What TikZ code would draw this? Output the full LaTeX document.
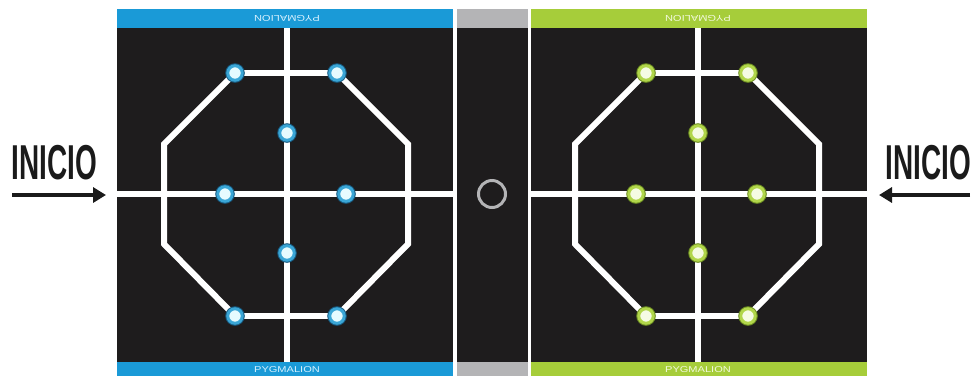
\documentclass[tikz,border=0pt]{standalone}
\usepackage{fontspec}
\setmainfont{Liberation Sans}
\usepackage{graphicx}
\usetikzlibrary{arrows.meta}
\definecolor{boardbk}{HTML}{1E1C1D}
\definecolor{barblue}{HTML}{1A9AD7}
\definecolor{bargreen}{HTML}{A6CD3A}
\definecolor{bargray}{HTML}{B4B4B6}
\definecolor{ringB}{HTML}{3AA6D6}
\definecolor{edgeB}{HTML}{17587E}
\definecolor{coreB}{HTML}{E6FBFF}
\definecolor{ringG}{HTML}{B1D64A}
\definecolor{edgeG}{HTML}{6C8C22}
\definecolor{coreG}{HTML}{F5FBE3}
\definecolor{txtB}{HTML}{D6F1FF}
\definecolor{txtG}{HTML}{F2F9DC}
\definecolor{inkblk}{HTML}{1A1A1A}
\pgfdeclarelayer{boardlayer}
\pgfdeclarelayer{linelayer}
\pgfsetlayers{boardlayer,linelayer,main}
\tikzset{
  dotB/.style={circle, inner sep=0pt, minimum size=14.5pt, fill=coreB, draw=ringB, line width=3pt,
    preaction={draw=edgeB, line width=5pt}},
  dotG/.style={circle, inner sep=0pt, minimum size=14.5pt, fill=coreG, draw=ringG, line width=3pt,
    preaction={draw=edgeG, line width=5pt}},
  track/.style={draw=white, line width=6pt, line join=miter},
  inicio/.style={inner sep=0pt, text=inkblk, font=\bfseries\fontsize{49}{49}\selectfont},
  startarrow/.style={draw=inkblk, line width=4pt, -{Triangle[length=13pt,width=15pt]}},
  barlabel/.style={inner sep=0pt, font=\fontsize{8.5}{8.5}\selectfont},
  centring/.style={circle, draw=bargray, line width=3pt, minimum size=27pt, inner sep=0pt}
}
% #1 prefix, #2 centre x, #3 left edge (rel), #4 right edge (rel), #5 dot style
\newcommand\drawboard[5]{%
\begin{scope}[shift={(#2,0)}]
  \coordinate (#1T) at (1,28);
  \coordinate (#1B) at (1,362);
  \coordinate (#1L) at (#3,194);
  \coordinate (#1R) at (#4,194);
  \coordinate (#1ul) at (-122,144);
  \coordinate (#1ll) at (-122,244);
  \coordinate (#1ur) at (122,144);
  \coordinate (#1lr) at (122,244);
  \node[#5] (#1tl) at (-51,73) {};
  \node[#5] (#1tr) at (51,73) {};
  \node[#5] (#1ct) at (1,133) {};
  \node[#5] (#1ml) at (-61,194) {};
  \node[#5] (#1mr) at (60,194) {};
  \node[#5] (#1cb) at (1,253) {};
  \node[#5] (#1bl) at (-51,316) {};
  \node[#5] (#1br) at (51,316) {};
  \begin{pgfonlayer}{linelayer}
    \draw[track] (#1T) -- (#1ct) -- (#1cb) -- (#1B);
    \draw[track] (#1L) -- (#1ml) -- (#1mr) -- (#1R);
    \draw[track] (#1tl) -- (#1tr);
    \draw[track] (#1tr) -- (#1ur) -- (#1lr) -- (#1br);
    \draw[track] (#1br) -- (#1bl);
    \draw[track] (#1bl) -- (#1ll) -- (#1ul) -- (#1tl);
  \end{pgfonlayer}
\end{scope}}
\begin{document}
\begin{tikzpicture}[x=1pt,y=-1pt]
\useasboundingbox (0,0) rectangle (972,376);
\begin{pgfonlayer}{boardlayer}
  % left board
  \fill[barblue] (117,9) rectangle (453,28);
  \fill[boardbk] (117,28) rectangle (453,362);
  \fill[barblue] (117,362) rectangle (453,376);
  % middle
  \fill[bargray] (457,9) rectangle (528,28);
  \fill[boardbk] (457,28) rectangle (528,362);
  \fill[bargray] (457,362) rectangle (528,376);
  % right board
  \fill[bargreen] (531,9) rectangle (867,28);
  \fill[boardbk] (531,28) rectangle (867,362);
  \fill[bargreen] (531,362) rectangle (867,376);
\end{pgfonlayer}
\node[barlabel, text=txtB, rotate=180] (ltxt) at (287,18.5) {\scalebox{1.3}[1]{PYGMALION}};
\node[barlabel, text=txtB] (lbtxt) at (287,369.5) {\scalebox{1.3}[1]{PYGMALION}};
\node[barlabel, text=txtG, rotate=180] (rtxt) at (698,18.5) {\scalebox{1.3}[1]{PYGMALION}};
\node[barlabel, text=txtG] (rbtxt) at (698,369.5) {\scalebox{1.3}[1]{PYGMALION}};
\drawboard{L}{286}{-169}{167}{dotB}
\drawboard{R}{697}{-166}{170}{dotG}
\node[centring] (mid) at (492,194) {};
% INICIO labels and arrows
\node[inicio] (inL) at (54.5,162.5) {\scalebox{0.57}[1]{INICIO}};
\node[inicio] (inR) at (928.5,162.5) {\scalebox{0.57}[1]{INICIO}};
\coordinate (aLs) at (12,195);
\coordinate (aLe) at (106,195);
\coordinate (aRs) at (970,195);
\coordinate (aRe) at (879,195);
\draw[startarrow] (aLs) -- (aLe);
\draw[startarrow] (aRs) -- (aRe);
\end{tikzpicture}
\end{document}
